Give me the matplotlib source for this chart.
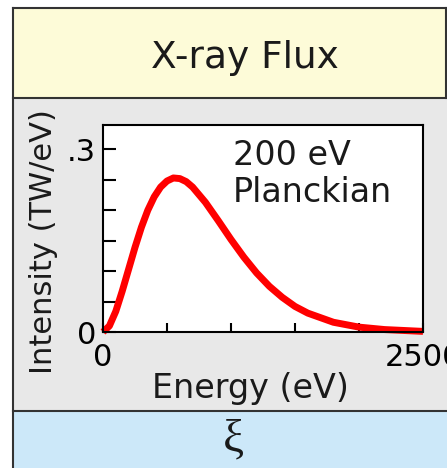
import matplotlib.pyplot as plt
from matplotlib.patches import Rectangle
from matplotlib.lines import Line2D

# Data (200 eV Planckian spectrum)
energy = [0, 50, 100, 150, 200, 250, 300, 350, 400, 450, 500, 550, 600, 650, 700,
          800, 900, 1000, 1100, 1200, 1300, 1400, 1500, 1600, 1800, 2000, 2200, 2500]
intensity = [0, 0.010, 0.034, 0.067, 0.103, 0.139, 0.172, 0.200, 0.222, 0.238, 0.248,
             0.253, 0.252, 0.247, 0.238, 0.213, 0.183, 0.152, 0.123, 0.097, 0.075,
             0.057, 0.042, 0.031, 0.016, 0.008, 0.004, 0.001]
x_ticks = [0, 500, 1000, 1500, 2000, 2500]
x_ticklabels = ['0', '', '', '', '', '2500']
y_ticks = [0, 0.05, 0.10, 0.15, 0.20, 0.25, 0.30]
y_ticklabels = ['0', '', '', '', '', '', '.3']

plt.rcParams['font.family'] = ['DejaVu Sans']

W, H = 447, 468
fig = plt.figure(figsize=(W / 100, H / 100), dpi=100)


def fx(x):
    return x / W


def fy(y):
    return 1 - y / H


# Panel backgrounds
panels = [(8, 98, '#fdfbd8'), (98, 411, '#e8e8e8'), (411, 468, '#cce8f9')]
for top, bottom, color in panels:
    fig.add_artist(Rectangle((fx(13), fy(bottom)), fx(447) - fx(13), fy(top) - fy(bottom),
                             facecolor=color, edgecolor='none',
                             transform=fig.transFigure, zorder=-10))

# Panel borders
border = dict(color='#333333', lw=1.5, transform=fig.transFigure, zorder=-5)
fig.add_artist(Line2D([fx(13), fx(13)], [fy(8), fy(468)], **border))
fig.add_artist(Line2D([fx(446), fx(446)], [fy(8), fy(98)], **border))
for y in [8, 98, 411]:
    fig.add_artist(Line2D([fx(13), fx(447)], [fy(y), fy(y)], **border))

# Plot
ax = fig.add_axes([fx(103), fy(332), (423 - 103) / W, (332 - 125) / H])
ax.plot(energy, intensity, color='#ff0000', lw=5, solid_capstyle='butt',
        solid_joinstyle='round', clip_on=False)
ax.set_xlim(0, 2500)
ax.set_ylim(0, 0.34)
ax.set_xticks(x_ticks)
ax.set_xticklabels(x_ticklabels)
ax.set_yticks(y_ticks)
ax.set_yticklabels(y_ticklabels)
ax.tick_params(direction='in', width=1.5, labelsize=22, colors='black')
ax.tick_params(axis='x', length=6.5, pad=8)
ax.tick_params(axis='y', length=9.5, pad=5)
for s in ax.spines.values():
    s.set_linewidth(1.5)

ax.text(0.405, 0.93, '200 eV\nPlanckian', transform=ax.transAxes, fontsize=24,
        ha='left', va='top', linespacing=1.15, color='#1a1a1a')

# Panel texts
fig.text(fx(245), fy(68), 'X-ray Flux', fontsize=27, ha='center', va='baseline', color='#1a1a1a')
fig.text(fx(250), fy(398), 'Energy (eV)', fontsize=24, ha='center', va='baseline', color='#1a1a1a')
fig.text(fx(44), fy(242), 'Intensity (TW/eV)', fontsize=22, rotation=90,
         ha='center', va='center', color='#1a1a1a')
fig.text(fx(233), fy(440), 'ξ', fontsize=34, ha='center', va='center',
         family=['Liberation Serif', 'DejaVu Serif'], color='#1a1a1a')

fig.savefig('out.png', dpi=100)
